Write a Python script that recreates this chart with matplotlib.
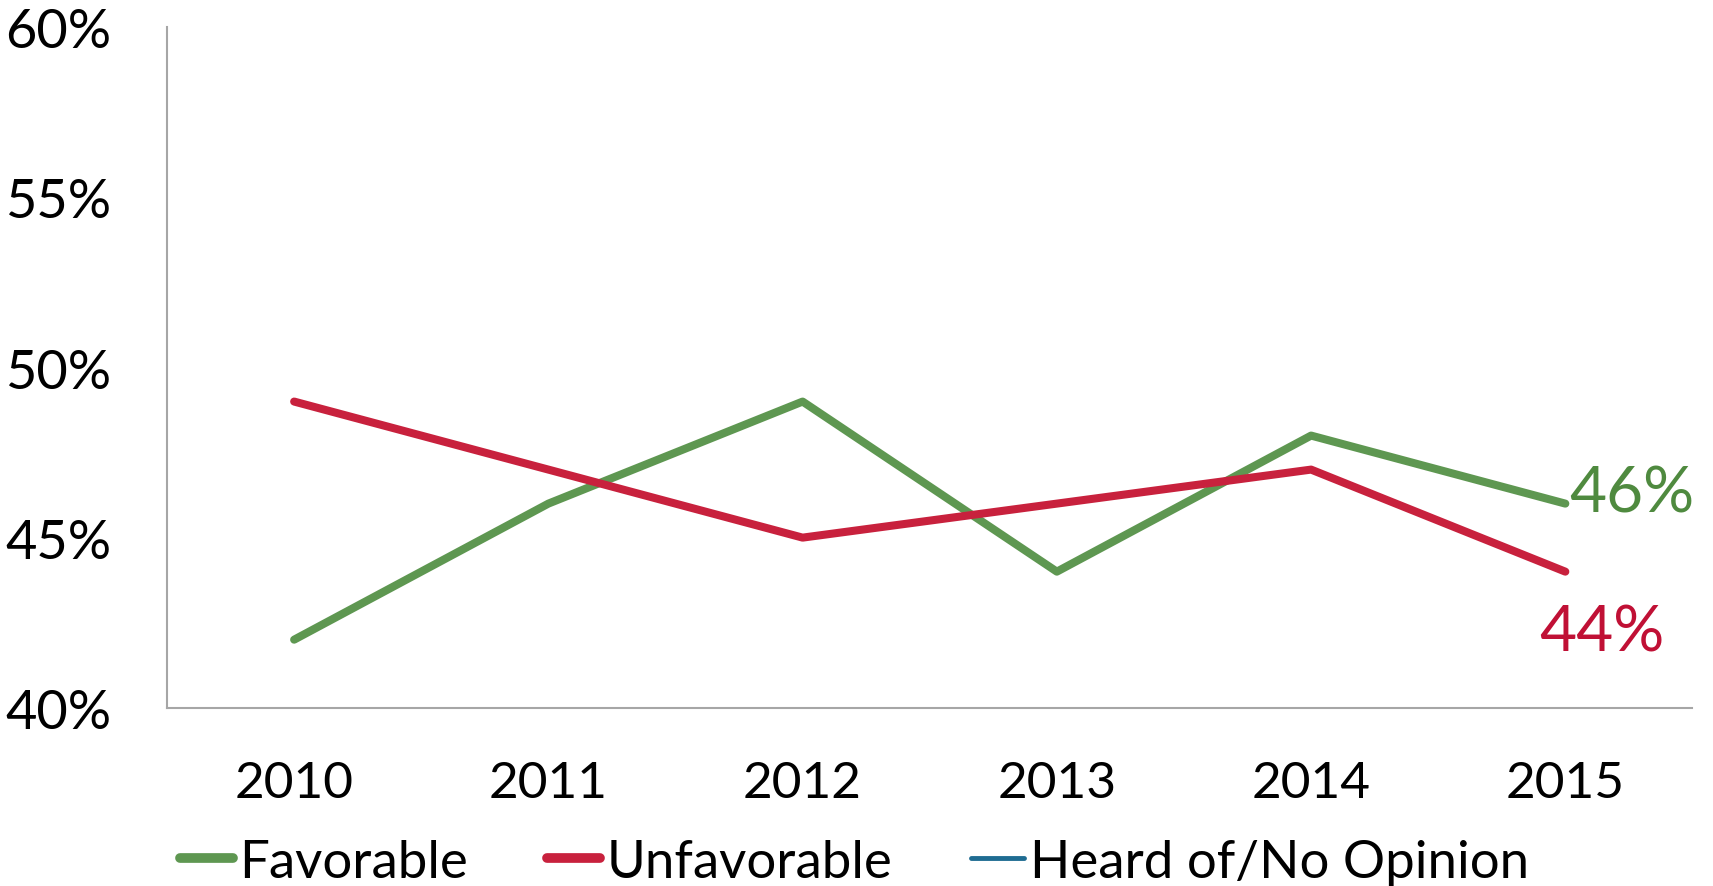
import matplotlib
matplotlib.use("Agg")
import matplotlib.pyplot as plt
from matplotlib.lines import Line2D

years = ["2010", "2011", "2012", "2013", "2014", "2015"]
favorable = [42, 46, 49, 44, 48, 46]
unfavorable = [49, 47, 45, 46, 47, 44]
yticks = [40, 45, 50, 55, 60]
series_names = ["Favorable", "Unfavorable", "Heard of/No Opinion"]

GREEN = "#5E9751"
RED = "#C8213D"
BLUE = "#1F6C92"
GREEN_TXT = "#4F8A3F"
RED_TXT = "#C01035"

plt.rcParams['font.family'] = ['Lato', 'DejaVu Sans']

fig = plt.figure(figsize=(17.13, 8.87), dpi=100)
ax = fig.add_axes([0.0975, 0.201, 0.8905, 0.767])

x = list(range(len(years)))
ax.plot(x, favorable, color=GREEN, lw=5.8, solid_capstyle='round', solid_joinstyle='round')
ax.plot(x, unfavorable, color=RED, lw=5.8, solid_capstyle='round', solid_joinstyle='round')

ax.set_xlim(-0.5, len(years) - 0.5)
ax.set_ylim(40, 60)
ax.set_yticks(yticks)
ax.set_yticklabels([f"{v}%" for v in yticks])
ax.set_xticks(x)
ax.set_xticklabels(years)
ax.tick_params(axis='y', length=0, pad=40, labelsize=39)
ax.tick_params(axis='x', length=0, pad=38, labelsize=37)

for s in ['top', 'right']:
    ax.spines[s].set_visible(False)
for s in ['left', 'bottom']:
    ax.spines[s].set_color('#A6A6A6')
    ax.spines[s].set_linewidth(1.5)

ax.annotate(f"{favorable[-1]}%", (x[-1], favorable[-1]), xytext=(3, 7),
            textcoords='offset points', color=GREEN_TXT, fontsize=46,
            ha='left', va='center')
ax.annotate(f"{unfavorable[-1]}%", (x[-1], unfavorable[-1]), xytext=(-19, -44),
            textcoords='offset points', color=RED_TXT, fontsize=46,
            ha='left', va='center')

handles = [
    Line2D([0], [0], color=GREEN, lw=7, solid_capstyle='round'),
    Line2D([0], [0], color=RED, lw=7, solid_capstyle='round'),
    Line2D([0], [0], color=BLUE, lw=3.5, solid_capstyle='round'),
]
fig.legend(handles, series_names, loc='center', bbox_to_anchor=(0.499, 0.027),
           ncol=3, frameon=False, fontsize=38, handlelength=1.0,
           handletextpad=0.12, columnspacing=1.5)

fig.savefig("out.png", dpi=100)
